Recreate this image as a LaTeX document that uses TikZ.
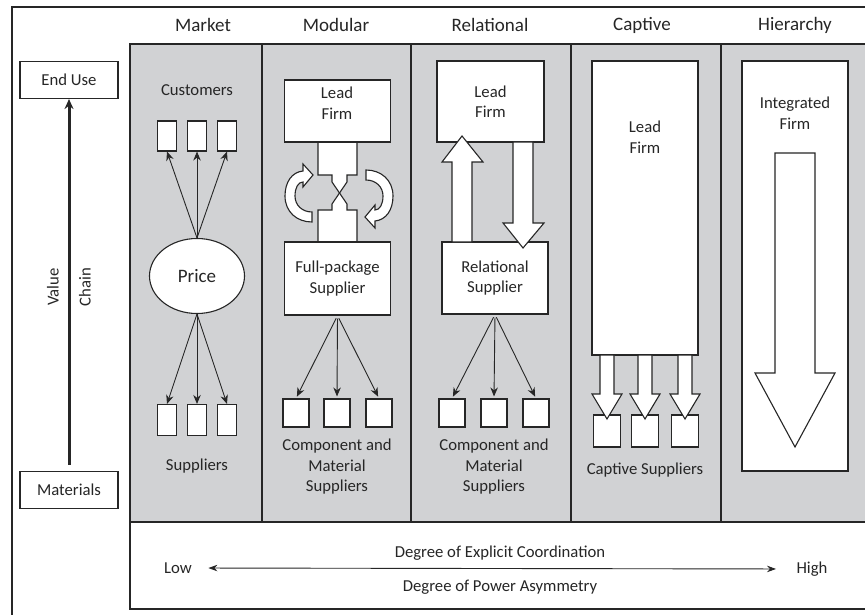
\documentclass[tikz,border=0pt]{standalone}
\usepackage{fontspec}
\setmainfont{Carlito}
\usetikzlibrary{arrows.meta, positioning, shapes.geometric}
\definecolor{panelgrey}{RGB}{209,210,212}
\definecolor{ink}{RGB}{38,38,38}

\begin{document}
\begin{tikzpicture}[
            x = 1pt, y = -1pt, % pixel grid, y runs downwards
            > = {Stealth[length=9pt, width=7.5pt]}, % arrow head style
            color = ink,
            line width = 1.1pt, % line style
            font = \fontsize{16.7}{20.5}\selectfont,
            turnarrow/.pic = {
                \filldraw[fat] (-2,-25) .. controls (-13,-24) and (-20,-14) .. (-20,0)
                    .. controls (-20,16) and (-8,26) .. (7,26) -- (7,16)
                    .. controls (-3,16) and (-10,9) .. (-10,0)
                    .. controls (-10,-8) and (-7,-14) .. (-2,-14)
                    -- (-2,-9) -- (8,-21) -- (-2,-32) -- cycle;
            }
        ]

        \tikzstyle{box}=[
            draw = ink,
            fill = white,
            inner sep = 0pt,
            align = center
        ]
        \tikzstyle{supp}=[box, minimum width = 26pt, minimum height = 28pt]
        \tikzstyle{txt}=[inner sep = 0pt, align = center]
        \tikzstyle{head}=[txt, font = \fontsize{19}{22}\selectfont]
        \tikzstyle{fat}=[draw = ink, fill = white, line width = 1.1pt, line join = miter]
        \tikzstyle{fan}=[->, line width = 0.9pt]

        \useasboundingbox (0,0) rectangle (865,615);
        \clip (0,0) rectangle (865,615);

        % panels
        \fill[panelgrey] (130,44) rectangle (880,522);
        \draw[line width = 1.6pt] (130,522) |- (880,44);
        \foreach \x in {262, 411, 571, 721}
            \draw[line width = 1.6pt] (\x,44) -- (\x,522);
        \draw[fill = white, line width = 1.3pt] (130,522) rectangle (880,609);
        \draw[line width = 2.4pt] (12,630) |- (880,7);

        % column heads
        \node[head] (market) at (203,25) {Market};
        \node[head] (modular) at (336,25) {Modular};
        \node[head] (relational) at (490,25) {Relational};
        \node[head] (captive) at (642,25) {Captive};
        \node[head] (hierarchy) at (795,25) {Hierarchy};

        % value chain
        \node[box, minimum width = 98pt, minimum height = 37pt] (enduse) at (69,80) {End Use};
        \node[box, minimum width = 98pt, minimum height = 37pt] (materials) at (69,490) {Materials};
        \draw[->, line width = 3pt, > = {Stealth[length=10pt, width=9pt]}]
            ([yshift=6pt]materials.north) -- (enduse.south);
        \node[txt, rotate = 90] (value) at (53,287) {Value};
        \node[txt, rotate = 90] (chain) at (85,287) {Chain};

        % market
        \node[txt] (customers) at (197,90) {Customers};
        \node[ellipse, draw, fill = white, minimum width = 95pt, minimum height = 75pt,
            inner sep = 0pt, font = \fontsize{19}{22}\selectfont] (price) at (197,276) {Price};
        \foreach \i/\x in {1/167, 2/197, 3/227} {
            \node[supp, minimum width = 19pt, minimum height = 30pt] (cust\i) at (\x,136) {};
            \node[supp, minimum width = 19pt, minimum height = 31pt] (sup\i) at (\x,420) {};
            \draw[fan] (price.north) -- (cust\i.south);
            \draw[fan] (price.south) -- (sup\i.north);
        }
        \node[txt] (suppliers) at (197,466) {Suppliers};

        % modular
        \fill[white] (318,142) -- (357,142) -- (357,175) -- (347,175) -- (347,182)
            -- (339.5,193) -- (347,204) -- (347,210) -- (357,210) -- (357,242)
            -- (318,242) -- (318,210) -- (332,210) -- (332,204) -- (339.5,193)
            -- (332,182) -- (332,175) -- (318,175) -- cycle;
        \draw (318,142) -- (318,175) -- (332,175) -- (332,182) -- (347,204)
            -- (347,210) -- (357,210) -- (357,242);
        \draw (357,142) -- (357,175) -- (347,175) -- (347,182) -- (332,204)
            -- (332,210) -- (318,210) -- (318,242);
        \node[box, minimum width = 106pt, minimum height = 62pt] (mlead) at (337.5,111) {};
        \node[txt] (mleadtext) at (337,103) {Lead\\Firm};
        \node[box, minimum width = 106pt, minimum height = 73pt] (fullpkg) at (337.5,278.5)
            {Full-package\\Supplier};
        \pic at (305,196) {turnarrow};
        \pic[rotate = 180] at (373,196) {turnarrow};
        \foreach \i/\x in {1/296, 2/337, 3/379} {
            \node[supp] (mc\i) at (\x,413) {};
            \draw[fan, shorten <= 3pt, shorten >= 2pt] (fullpkg.south) -- (mc\i.north);
        }
        \node[txt] (mcomp) at (337,467) {Component and\\Material\\Suppliers};

        % relational
        \node[box, minimum width = 107pt, minimum height = 81pt] (rlead) at (490.5,101.5) {Lead\\Firm};
        \node[box, minimum width = 106pt, minimum height = 72pt] (rsupp) at (495,278)
            {Relational\\Supplier};
        \filldraw[fat] (452,242) -- (452,162) -- (442,162) -- (462,136) -- (483,162)
            -- (472,162) -- (472,242) -- cycle;
        \filldraw[fat] (513,142) -- (513,223) -- (503,223) -- (523,248) -- (544,223)
            -- (533,223) -- (533,142) -- cycle;
        \foreach \i/\x in {1/452, 2/494, 3/536} {
            \node[supp] (rc\i) at (\x,413) {};
            \draw[fan, shorten <= 3pt, shorten >= 2pt] (rsupp.south) -- (rc\i.north);
        }
        \node[txt] (rcomp) at (494,467) {Component and\\Material\\Suppliers};

        % captive
        \node[box, minimum width = 106pt, minimum height = 294pt] (clead) at (645,208) {};
        \node[txt] (cleadtext) at (645,137) {Lead\\Firm};
        \foreach \i/\x in {1/607, 2/645, 3/685} {
            \node[supp, minimum width = 27pt, minimum height = 32pt] (cs\i) at (\x,431) {};
            \filldraw[fat] ({\x-7},355) -- ({\x-7},394) -- ({\x-15},394) -- (\x,419)
                -- ({\x+15},394) -- ({\x+7},394) -- ({\x+7},355) -- cycle;
        }
        \node[txt] (csupp) at (645,470) {Captive Suppliers};

        % hierarchy
        \node[box, minimum width = 106pt, minimum height = 410pt] (hfirm) at (795,266) {};
        \node[txt] (hfirmtext) at (795,113) {Integrated\\Firm};
        \filldraw[fat] (775,153) -- (775,373) -- (755,373) -- (795,447) -- (835,373)
            -- (815,373) -- (815,153) -- cycle;

        % coordination scale
        \node[txt] (explicit) at (500,553) {Degree of Explicit Coordination};
        \node[txt] (power) at (500,587) {Degree of Power Asymmetry};
        \node[txt] (low) at (178,568) {Low};
        \node[txt] (high) at (812,569) {High};
        \draw[<->, line width = 0.9pt, > = {Stealth[length=9pt, width=6.5pt]},
            shorten <= 16pt, shorten >= 20pt] (low.east) -- (high.west);

    \end{tikzpicture}
\end{document}
